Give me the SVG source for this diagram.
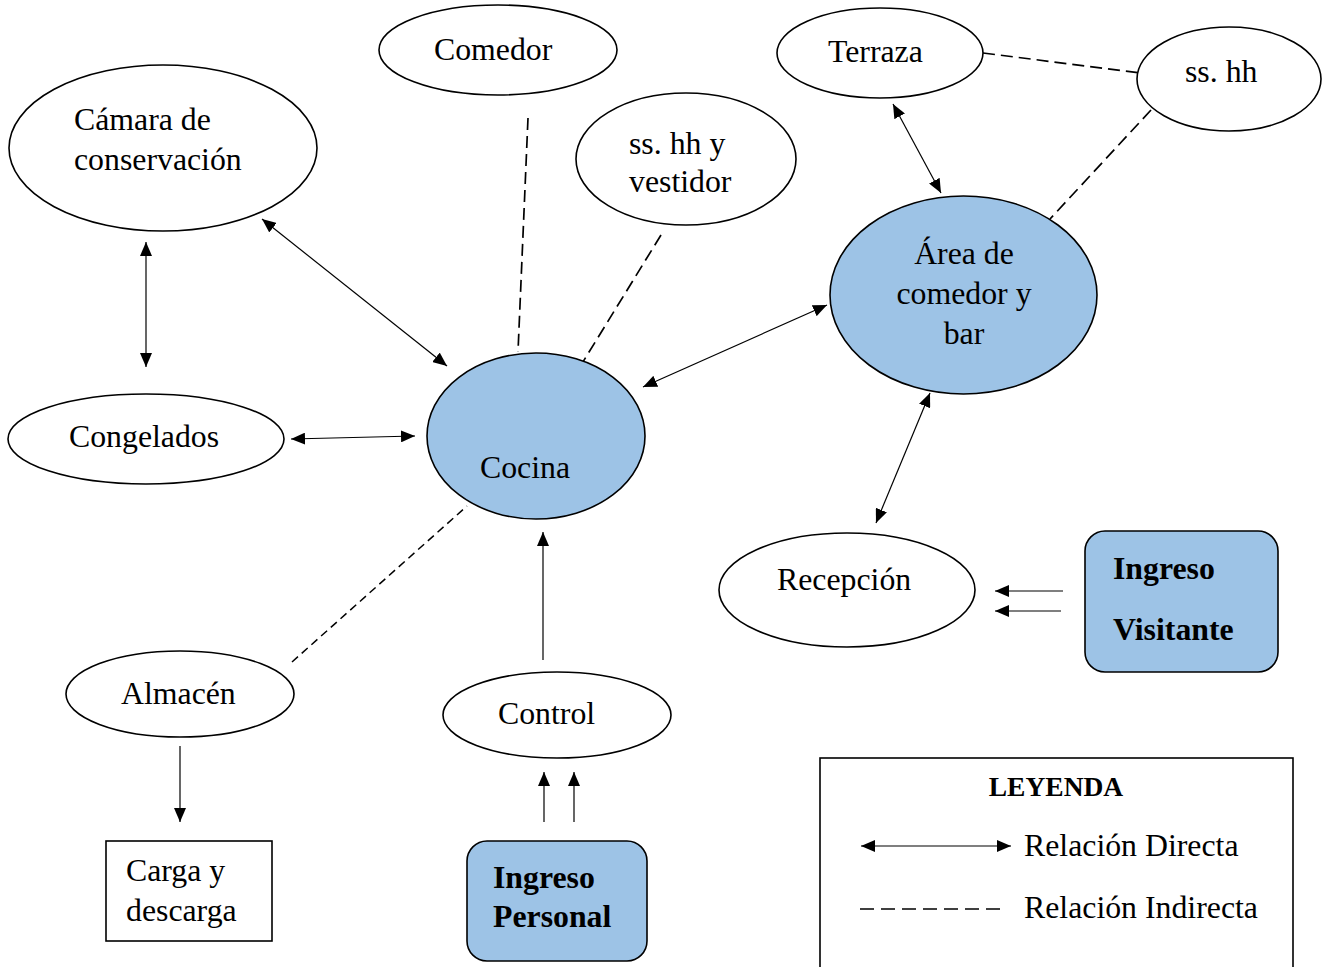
<svg xmlns="http://www.w3.org/2000/svg" width="1323" height="967" viewBox="0 0 1323 967">
<defs>
<marker id="ah" viewBox="0 0 14 12" refX="14" refY="6" markerWidth="14" markerHeight="12" markerUnits="userSpaceOnUse" orient="auto-start-reverse">
<path d="M0,0 L14,6 L0,12 Z" fill="#000"/>
</marker>
</defs>
<style>
.n{fill:#fff;stroke:#000;stroke-width:1.6}
.b{fill:#9dc3e6;stroke:#000;stroke-width:1.6}
.t{font-family:"Liberation Serif","Times New Roman",serif;font-size:31.8px;fill:#000}
.tb{font-family:"Liberation Serif","Times New Roman",serif;font-size:31.8px;font-weight:bold;fill:#000}
.c{stroke:#000;stroke-width:1.2;fill:none}
.d{stroke:#000;stroke-width:1.7;fill:none;stroke-dasharray:12 6}
.d2{stroke:#000;stroke-width:1.5;fill:none;stroke-dasharray:8 5}
.bi{marker-start:url(#ah);marker-end:url(#ah)}
.one{marker-end:url(#ah)}
</style>
<rect width="1323" height="967" fill="#fff"/>
<g id="connectors">
<line class="d" x1="528" y1="118" x2="518" y2="352"/>
<line class="d" x1="661" y1="235" x2="578" y2="370"/>
<line class="d" x1="983" y1="53" x2="1141" y2="73"/>
<line class="d" x1="1151" y1="110" x2="1050" y2="219"/>
<line class="d2" x1="292" y1="662" x2="467" y2="506"/>
<line class="c bi" x1="262" y1="219" x2="447" y2="366"/>
<line class="c bi" x1="146" y1="242" x2="146" y2="367"/>
<line class="c bi" x1="291" y1="439" x2="415" y2="436"/>
<line class="c bi" x1="643" y1="387" x2="827" y2="305"/>
<line class="c bi" x1="893" y1="104" x2="941" y2="193"/>
<line class="c bi" x1="930" y1="393" x2="876" y2="523"/>
<line class="c one" x1="543" y1="660" x2="543" y2="532"/>
<line class="c one" x1="180" y1="746" x2="180" y2="822"/>
<line class="c one" x1="544" y1="822" x2="544" y2="772"/>
<line class="c one" x1="574" y1="822" x2="574" y2="772"/>
<line class="c one" x1="1063" y1="591" x2="995" y2="591"/>
<line class="c one" x1="1061" y1="611" x2="995" y2="611"/>
</g>
<g id="comedor">
<ellipse class="n" cx="498" cy="50" rx="119" ry="45"/>
<text class="t" x="434" y="60">Comedor</text>
</g>
<g id="camara">
<ellipse class="n" cx="163" cy="148" rx="154" ry="83"/>
<text class="t" x="74" y="130">Cámara de</text>
<text class="t" x="74" y="170">conservación</text>
</g>
<g id="sshh-vestidor">
<ellipse class="n" cx="686" cy="159" rx="110" ry="66"/>
<text class="t" x="629" y="154">ss. hh y</text>
<text class="t" x="629" y="192">vestidor</text>
</g>
<g id="terraza">
<ellipse class="n" cx="880" cy="53" rx="103" ry="45"/>
<text class="t" x="828" y="62">Terraza</text>
</g>
<g id="sshh">
<ellipse class="n" cx="1229" cy="79" rx="92" ry="52"/>
<text class="t" x="1185" y="82">ss. hh</text>
</g>
<g id="area-comedor-bar">
<ellipse class="b" cx="963.5" cy="295" rx="133.5" ry="99"/>
<text class="t" x="964" y="264" text-anchor="middle">Área de</text>
<text class="t" x="964" y="304" text-anchor="middle">comedor y</text>
<text class="t" x="964" y="344" text-anchor="middle">bar</text>
</g>
<g id="congelados">
<ellipse class="n" cx="146" cy="439" rx="138" ry="45"/>
<text class="t" x="69" y="447">Congelados</text>
</g>
<g id="cocina">
<ellipse class="b" cx="536" cy="436" rx="109" ry="83"/>
<text class="t" x="480" y="478">Cocina</text>
</g>
<g id="recepcion">
<ellipse class="n" cx="847" cy="590" rx="128" ry="57"/>
<text class="t" x="777" y="590">Recepción</text>
</g>
<g id="almacen">
<ellipse class="n" cx="180" cy="694" rx="114" ry="43"/>
<text class="t" x="121" y="704">Almacén</text>
</g>
<g id="control">
<ellipse class="n" cx="557" cy="715" rx="114" ry="43"/>
<text class="t" x="498" y="724">Control</text>
</g>
<g id="carga-descarga">
<rect x="106" y="841" width="166" height="100" fill="#fff" stroke="#000" stroke-width="1.6"/>
<text class="t" x="126" y="881">Carga y</text>
<text class="t" x="126" y="921">descarga</text>
</g>
<g id="ingreso-personal">
<rect class="b" x="467" y="841" width="180" height="120" rx="20"/>
<text class="tb" x="493" y="888">Ingreso</text>
<text class="tb" x="493" y="927">Personal</text>
</g>
<g id="ingreso-visitante">
<rect class="b" x="1085" y="531" width="193" height="141" rx="20"/>
<text class="tb" x="1113" y="579">Ingreso</text>
<text class="tb" x="1113" y="640">Visitante</text>
</g>
<g id="leyenda">
<rect x="820" y="758" width="473" height="230" fill="#fff" stroke="#000" stroke-width="1.6"/>
<text class="tb" x="1056" y="796" text-anchor="middle" style="font-size:27.5px">LEYENDA</text>
<line class="c bi" x1="861" y1="846" x2="1011" y2="846"/>
<text class="t" x="1024" y="856">Relación Directa</text>
<line x1="860" y1="909" x2="1004" y2="909" stroke="#000" stroke-width="1.6" stroke-dasharray="14 7"/>
<text class="t" x="1024" y="918">Relación Indirecta</text>
</g>
</svg>
